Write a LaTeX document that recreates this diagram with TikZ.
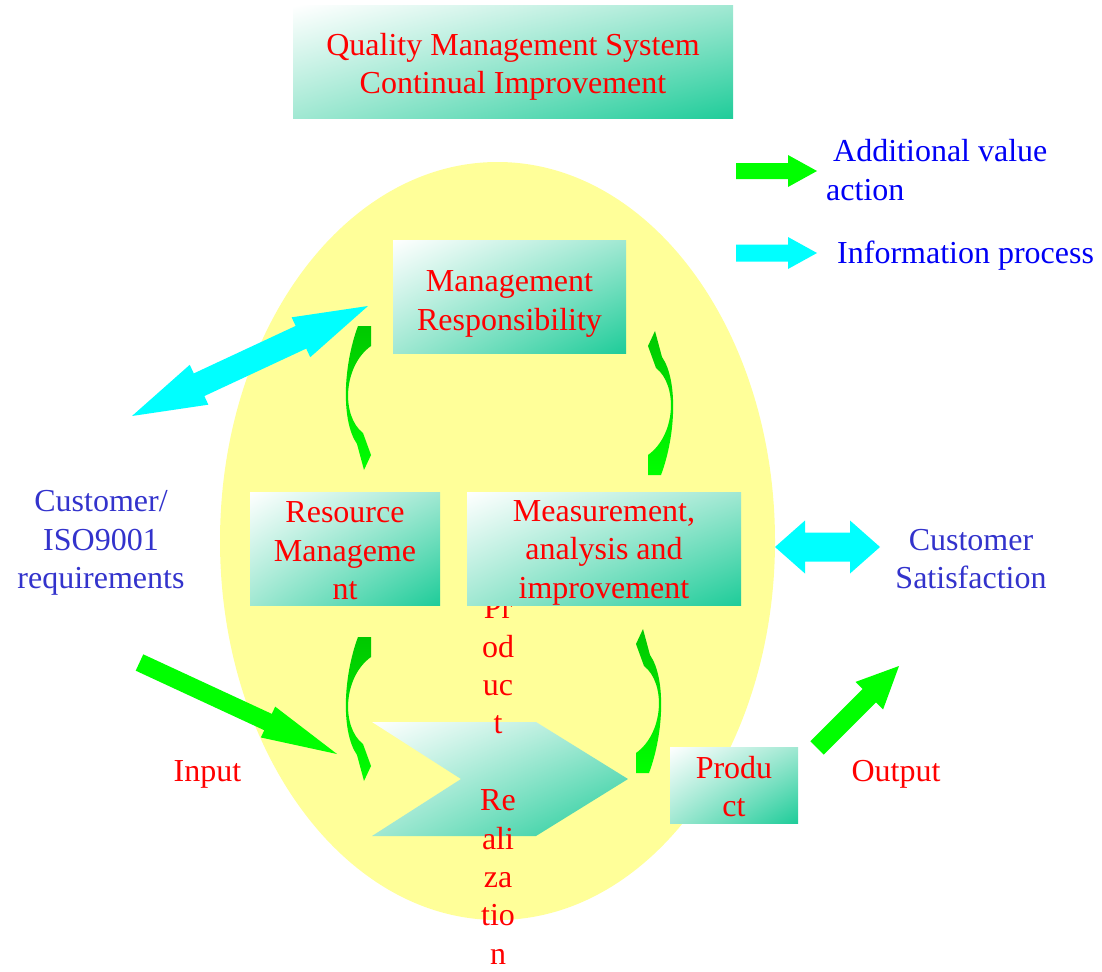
\documentclass[tikz,border=0pt]{standalone}
\usepackage{fontspec}
\setmainfont{Liberation Serif}
\usetikzlibrary{calc,shadings}
\definecolor{tealA}{RGB}{30,204,153}
\definecolor{tealM}{RGB}{160,232,210}
\definecolor{ellY}{RGB}{255,255,153}
\definecolor{cyA}{RGB}{0,255,255}
\definecolor{grA}{RGB}{0,255,0}
\definecolor{grD}{RGB}{0,200,0}
\definecolor{redT}{RGB}{255,0,0}
\definecolor{custB}{RGB}{51,51,204}
\definecolor{legB}{RGB}{0,0,245}
\newcommand\bigtxt{\fontsize{32}{38.4}\selectfont}
\newcommand\toprule[1]{\rule{0pt}{#1}}
% single block arrow: from, to, half shaft, half head, head length, style
\newcommand\blockarr[6]{%
  \coordinate (bah) at ($(#2)!#5!(#1)$);
  \fill[#6] ($(#1)!#3!90:(#2)$) -- ($(bah)!#3!90:(#2)$) -- ($(bah)!#4!90:(#2)$) -- (#2)
    -- ($(bah)!#4!-90:(#2)$) -- ($(bah)!#3!-90:(#2)$) -- ($(#1)!#3!-90:(#2)$) -- cycle;}
% double block arrow
\newcommand\dblarr[6]{%
  \coordinate (dah) at ($(#2)!#5!(#1)$);
  \coordinate (dat) at ($(#1)!#5!(#2)$);
  \fill[#6] (#1) -- ($(dat)!#4!90:(#2)$) -- ($(dat)!#3!90:(#2)$) -- ($(dah)!#3!90:(#2)$)
    -- ($(dah)!#4!90:(#2)$) -- (#2) -- ($(dah)!#4!-90:(#2)$) -- ($(dah)!#3!-90:(#2)$)
    -- ($(dat)!#3!-90:(#2)$) -- ($(dat)!#4!-90:(#2)$) -- cycle;}
% curved green arrow (tail at top, head at bottom, bulging left)
\newcommand\curvarr{%
  \shade[top color=grD, bottom color=grA]
    (-13,0) -- (0,0) -- (0,20) .. controls (-28,40) and (-30,90) .. (-8,107)
    -- (0,129) -- (-7,144) -- (-14,118) .. controls (-30,95) and (-28,40) .. (-13,0) -- cycle;}
\tikzset{
  gbox/.style={shade, upper left=white, upper right=tealM, lower left=tealM, lower right=tealA,
    text=redT, align=center, inner sep=0pt, font=\bigtxt},
  redtxt/.style={text=redT, align=center, inner sep=0pt, font=\bigtxt},
  bluetxt/.style={text=custB, align=center, inner sep=0pt, font=\bigtxt},
  legtxt/.style={text=legB, align=left, inner sep=0pt, font=\bigtxt},
}
\begin{document}
\begin{tikzpicture}[x=1pt,y=-1pt]
\useasboundingbox (0,0) rectangle (1102,971);
% big ellipse
\fill[ellY] (497.5,541) ellipse [x radius=277.5, y radius=379];
% title
\node[gbox, minimum width=440pt, minimum height=113pt] (title) at (513,62.5)
  {\toprule{31pt}Quality Management System\\Continual Improvement};
% product realization chevron
\shade[upper left=white, upper right=tealM, lower left=tealM, lower right=tealA]
  (372,722) -- (536,722) -- (628,779) -- (536,836) -- (372,836) -- (461,779) -- cycle;
\coordinate (chev) at (500,779);
\node[redtxt] (prtext) at (498,781) {Pr\\od\\uc\\t\\\mbox{}\\Re\\ali\\za\\tio\\n};
% boxes
\node[gbox, minimum width=233pt, minimum height=113pt] (mgmt) at (509.5,296.5)
  {\toprule{36pt}Management\\Responsibility};
\node[gbox, minimum width=190pt, minimum height=113pt] (res) at (345,548.5)
  {\toprule{26pt}Resource\\Manageme\\nt};
\node[gbox, minimum width=274pt, minimum height=113pt] (meas) at (604,548.5)
  {\toprule{29pt}Measurement,\\analysis and\\improvement};
\node[gbox, minimum width=128pt, minimum height=76pt] (prod) at (734,785)
  {\toprule{25pt}Produ\\ct};
% curved arrows
\begin{scope}[shift={(371,326)}]\curvarr\end{scope}
\begin{scope}[shift={(371,637)}]\curvarr\end{scope}
\begin{scope}[shift={(648,475)}, rotate=180]\curvarr\end{scope}
\begin{scope}[shift={(636,773)}, rotate=180]\curvarr\end{scope}
% block arrows
\coordinate (cyL) at (132,416);
\coordinate (cyR) at (368,306);
\dblarr{cyL}{cyR}{12.5pt}{22pt}{74pt}{cyA}
\coordinate (csL) at (775,547);
\coordinate (csR) at (880,547);
\dblarr{csL}{csR}{14.5pt}{26.5pt}{30pt}{cyA}
\coordinate (inA) at (139.5,662.5);
\coordinate (inB) at (337,754);
\blockarr{inA}{inB}{9pt}{17pt}{76pt}{grA}
\coordinate (outA) at (817,748);
\coordinate (outB) at (899,666);
\blockarr{outA}{outB}{9.4pt}{19.5pt}{42pt}{grA}
\coordinate (lgA) at (736,171);
\coordinate (lgB) at (817,171);
\blockarr{lgA}{lgB}{8pt}{16pt}{29pt}{grA}
\coordinate (lcA) at (736,253);
\coordinate (lcB) at (817,253);
\blockarr{lcA}{lcB}{8.5pt}{16pt}{29pt}{cyA}
% texts
\node[bluetxt] (cust) at (101,543) {Customer/\\ISO9001\\requirements};
\node[bluetxt] (sat) at (971,559) {Customer\\Satisfaction};
\node[redtxt, anchor=base] (inp) at (207.5,781) {Input};
\node[redtxt, anchor=base] (outp) at (896,781) {Output};
\node[legtxt, anchor=base west] (leg1) at (826,200) {\hspace*{7pt}Additional value\\action};
\node[legtxt, anchor=base west] (leg2) at (837,263) {Information process};
\end{tikzpicture}
\end{document}
